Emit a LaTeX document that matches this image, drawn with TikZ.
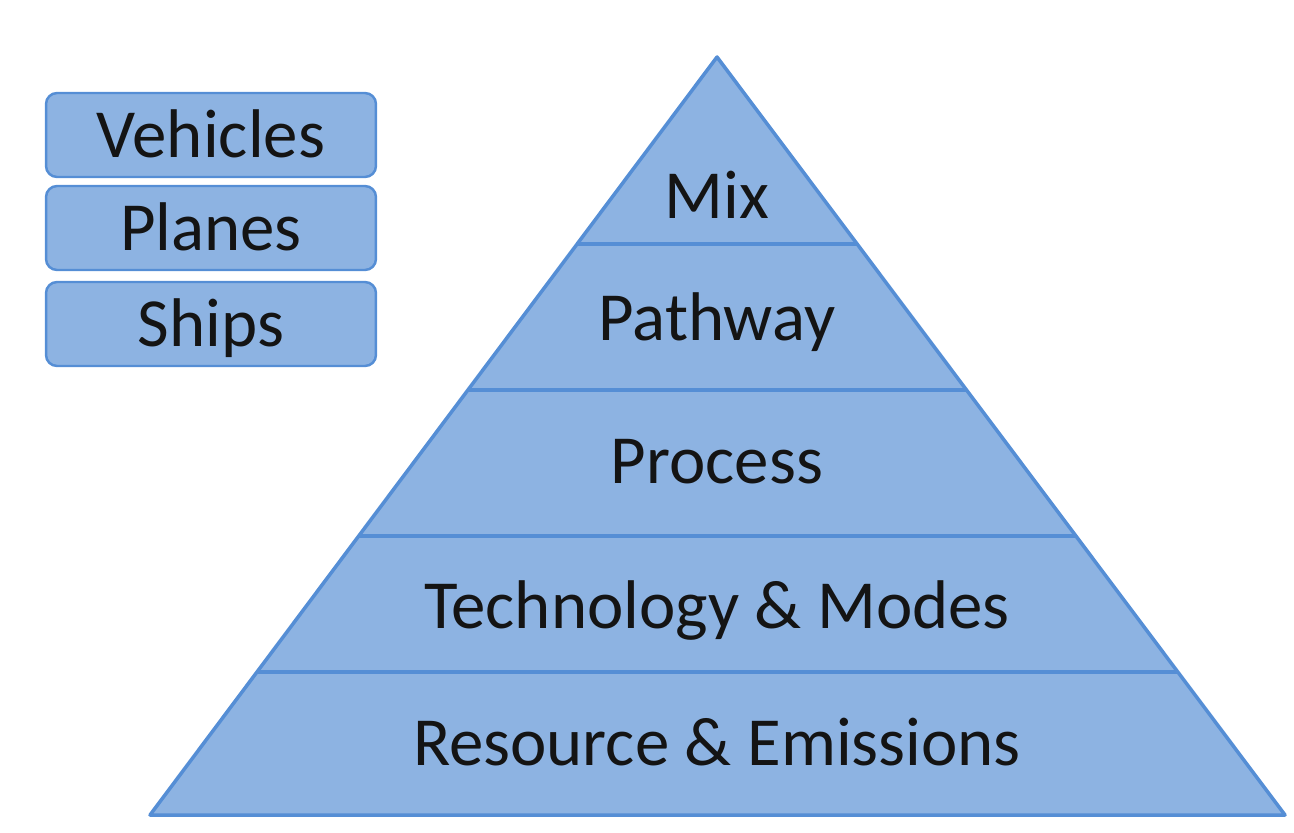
\documentclass[tikz,border=0pt]{standalone}
\usepackage{fontspec}
\setmainfont{Carlito}
\usetikzlibrary{calc}
\definecolor{layerfill}{HTML}{8DB3E2}
\definecolor{layerline}{HTML}{558ED5}
\definecolor{labelblack}{HTML}{141414}

\begin{document}
\begin{tikzpicture}[x=0.02cm, y=-0.02cm,
    layer/.style={fill=layerfill, draw=layerline, line width=2pt, line join=round},
    tier/.style={text=labelblack, font=\fontsize{39.2}{41}\selectfont, anchor=base, inner sep=0pt},
    modebox/.style={fill=layerfill, draw=layerline, line width=1.4pt, rounded corners=0.22cm,
      minimum width=6.6cm, minimum height=1.68cm, inner sep=0pt,
      text=labelblack, font=\fontsize{39.2}{41}\selectfont, text height=25.2pt, text depth=0pt}]
  \useasboundingbox (0,0) rectangle (1294,832);

  % pyramid outline
  \coordinate (apex) at (717,57);
  \coordinate (baseL) at (150,815);
  \coordinate (baseR) at (1285,815);
  \draw[layer] (apex) -- (baseR) -- (baseL) -- cycle;

  % layer boundaries (fraction of the height from the apex)
  \foreach \f/\n in {0.2467/a, 0.4393/b, 0.6319/c, 0.8113/d} {
    \coordinate (l\n) at ($(apex)!\f!(baseL)$);
    \coordinate (r\n) at ($(apex)!\f!(baseR)$);
    \draw[layerline, line width=2pt] (l\n) -- (r\n);
  }

  % layer labels
  \node[tier] (mix) at (717,218) {Mix};
  \node[tier] (pathway) at (717,340) {Pathway};
  \node[tier] (process) at (717,483) {Process};
  \node[tier] (techmodes) at (717,628) {Technology \& Modes};
  \node[tier] (resemis) at (717,765) {Resource \& Emissions};

  % transport modes
  \node[modebox] (vehicles) at (211,135) {Vehicles};
  \node[modebox] (planes) at (211,228) {Planes};
  \node[modebox] (ships) at (211,324) {Ships};

\end{tikzpicture}
\end{document}
